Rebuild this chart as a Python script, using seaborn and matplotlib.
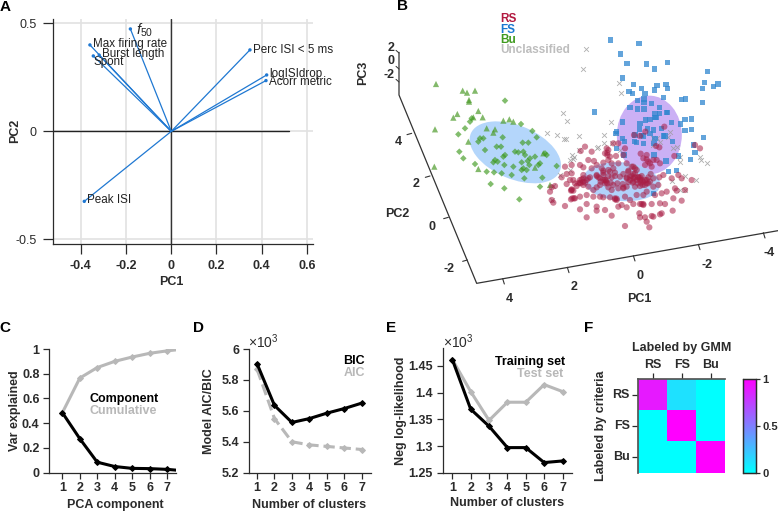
import numpy as np
import pandas as pd
import matplotlib
matplotlib.use('Agg')
import matplotlib.pyplot as plt
from matplotlib.patches import Ellipse
import seaborn as sns

sns.set_theme(style='ticks')
plt.rcParams['font.family'] = ['Liberation Sans', 'DejaVu Sans']
plt.rcParams['mathtext.fontset'] = 'custom'
plt.rcParams['mathtext.it'] = 'Liberation Sans:italic'
plt.rcParams['mathtext.rm'] = 'Liberation Sans'

W, H = 778, 513
DARK = '#2b2b2b'
GREY = '#b8b8b8'

# panel A loadings
feature_names = ['$f_{50}$', 'Max firing rate', 'Burst length', 'Spont',
                 'Perc ISI < 5 ms', 'logISIdrop', 'Acorr metric', 'Peak ISI']
pc1_load = [-0.181, -0.36, -0.319, -0.345, 0.348, 0.422, 0.419, -0.385]
pc2_load = [0.474, 0.40, 0.353, 0.349, 0.377, 0.261, 0.235, -0.324]

# panel B, points read in the projected view plane of the 3D plot
fs_h = [722, 807, 751, 771, 830, 893, 854, 1012, 758, 1003, 1044, 1030, 997, 790, 815, 853, 861, 888, 892,
        777, 787, 825, 880, 935, 947, 997, 803, 822, 822, 845, 673, 780, 803, 822, 868, 855, 892, 858,
        757, 808, 826, 840, 855, 868, 890, 905, 932, 945, 965, 965, 945, 1000, 740, 738, 758, 763, 793, 800,
        815, 820, 840, 855, 880, 885, 907, 970, 975, 962, 925, 888, 852, 740, 762, 920, 895, 850, 832, 810,
        850, 875, 820, 795, 852]
fs_v = [-180, -170, -138, -110, -108, -113, -93, -85, -66, -53, -48, -41, -35, -46, -35, -30, -44, -46, -35,
        -25, -19, -20, -8, -2, -3, 7, 2, -3, 7, 10, 36, 22, 27, 27, 23, 40, 37, 52,
        66, 87, 60, 58, 52, 40, 38, 67, 72, 58, 57, 88, 92, 112, 95, 100, 115, 125, 125, 128,
        107, 108, 100, 115, 108, 108, 125, 135, 158, 178, 168, 183, 165, 145, 165, 211, 215, 280, 85, 70,
        90, 85, 130, 105, 130]

rs_h = [645, 632, 665, 710, 730, 745, 712, 705, 720, 765, 760, 738, 715, 700, 655, 672, 630, 605, 585, 605,
        590, 575, 640, 665, 680, 695, 715, 730, 745, 770, 785, 800, 820, 835, 850, 860, 825, 845, 870, 792,
        810, 826, 883, 858, 868, 975, 990, 812, 830, 913, 600, 615, 630, 640, 650, 660, 680, 690, 700, 715,
        725, 735, 750, 770, 780, 790, 800, 810, 820, 830, 840, 850, 868, 880, 905, 925, 935, 965, 545, 555,
        590, 605, 603, 625, 640, 655, 680, 705, 715, 725, 745, 760, 770, 795, 810, 825, 850, 865, 915, 945,
        920, 540, 545, 550, 585, 607, 615, 630, 650, 670, 690, 700, 720, 735, 740, 765, 780, 800, 820, 830,
        855, 875, 890, 910, 935, 630, 650, 650, 680, 680, 705, 725, 745, 755, 770, 790, 815, 820, 845, 870,
        885, 875, 908, 808, 810, 825, 845, 850, 830, 765, 838, 870, 670, 610, 692, 708, 722, 742, 758, 775,
        788, 803, 818, 835, 790, 775, 760, 735, 700, 640, 620, 795, 805, 815, 830, 842, 640, 632, 705, 690,
        610, 605, 630, 635, 645, 655, 700, 708, 712, 730, 760, 780, 785, 795, 805, 825, 835, 812, 790, 770,
        775, 790, 795, 720, 700, 725, 715, 712, 830, 840, 810, 820, 612, 603, 735, 740, 680, 685, 810, 815]
rs_v = [140, 153, 155, 145, 130, 130, 158, 160, 170, 145, 165, 168, 180, 188, 180, 183, 195, 195, 200, 220,
        222, 232, 202, 205, 195, 205, 210, 205, 190, 190, 200, 210, 175, 185, 180, 180, 195, 200, 190, 105,
        108, 95, 80, 138, 142, 135, 145, 161, 165, 168, 240, 250, 240, 235, 240, 232, 225, 235, 225, 228,
        232, 228, 230, 235, 230, 235, 240, 240, 245, 240, 245, 235, 232, 225, 235, 225, 235, 240, 262, 258,
        252, 270, 272, 250, 255, 260, 262, 250, 262, 270, 265, 265, 260, 260, 258, 255, 260, 255, 265, 270,
        272, 275, 300, 308, 318, 295, 295, 290, 285, 290, 290, 292, 292, 295, 300, 290, 300, 285, 285, 275,
        285, 280, 275, 295, 302, 328, 352, 312, 320, 332, 330, 347, 320, 315, 322, 312, 312, 312, 312, 310,
        312, 340, 332, 340, 352, 352, 348, 350, 365, 378, 382, 343, 270, 240, 245, 240, 248, 250, 252, 246,
        248, 250, 255, 232, 222, 215, 222, 218, 212, 245, 258, 220, 232, 228, 250, 222, 225, 250, 240, 255,
        272, 268, 248, 238, 248, 235, 240, 245, 250, 255, 262, 240, 228, 232, 232, 240, 250, 248, 245, 232,
        212, 200, 205, 215, 218, 190, 150, 165, 178, 190, 312, 315, 295, 298, 298, 296, 228, 232, 232, 240]

bu_tri_h = [198, 278, 291, 315, 297, 297, 325, 262, 250, 338, 310, 195, 400, 418, 430, 350, 375, 370, 295,
            193, 325, 495, 520, 540]
bu_tri_v = [-48, -28, -22, -28, 0, 5, 33, 42, 53, 52, 52, 88, 62, 58, 65, 85, 88, 98, 125,
            200, 207, 203, 160, 255]
bu_dia_h = [405, 305, 300, 265, 285, 453, 487, 500, 330, 325, 340, 398, 380, 393, 345, 268, 280, 375, 370,
            400, 405, 435, 445, 460, 465, 458, 475, 480, 495, 525, 530, 510, 505, 403, 455, 460, 430, 478,
            315, 350, 372, 395, 425, 463, 517, 362, 403, 448, 510, 560, 473, 455, 383, 470]
bu_dia_v = [2, 55, 65, 103, 85, 72, 93, 112, 115, 125, 115, 112, 140, 140, 150, 155, 175, 180, 187,
            170, 165, 155, 157, 155, 165, 128, 128, 175, 170, 160, 165, 190, 195, 195, 187, 205, 200, 195,
            192, 215, 217, 220, 225, 235, 233, 252, 265, 298, 260, 198, 183, 210, 185, 210]

un_h = [648, 638, 748, 752, 580, 590, 722, 532, 562, 583, 587, 627, 703, 738, 703, 727, 685, 680, 628, 605,
        610, 600, 612, 750, 900, 895, 860, 850, 870, 910, 920, 990, 992, 1012, 930, 930, 945, 978, 905, 930,
        945, 570, 600, 550, 545, 850]
un_v = [-153, -93, -52, -20, 40, 63, 66, 100, 105, 117, 117, 108, 105, 100, 130, 130, 140, 143, 150, 165,
        178, 180, 170, 150, 95, 110, 115, 115, 127, 145, 140, 170, 180, 190, 170, 185, 228, 240, 243, 270,
        270, 225, 210, 258, 300, 135]

# panel C
pca_comp = [1, 2, 3, 4, 5, 6, 7, 8]
var_component = [0.485, 0.275, 0.085, 0.05, 0.035, 0.033, 0.027, 0.015]
var_cumulative = [0.485, 0.765, 0.85, 0.90, 0.935, 0.965, 0.985, 1.0]

# panel D
n_clusters = [1, 2, 3, 4, 5, 6, 7]
bic = [5.905, 5.635, 5.525, 5.55, 5.585, 5.615, 5.65]
aic = [5.87, 5.55, 5.40, 5.38, 5.37, 5.36, 5.35]

# panel E
nll_train = [1.462, 1.369, 1.337, 1.297, 1.297, 1.269, 1.272]
nll_test = [1.462, 1.402, 1.348, 1.382, 1.382, 1.415, 1.402]

# panel F
gmm_labels = ['RS', 'FS', 'Bu']
confusion = [[0.9, 0.12, 0.0], [0.0, 1.0, 0.0], [0.0, 0.0, 1.0]]


def px_axes(fig, x0, y0, x1, y1):
    # rectangle in pixels, y measured from the top
    return fig.add_axes([x0 / W, 1 - y1 / H, (x1 - x0) / W, (y1 - y0) / H])


def px_text(fig, x, y, s, **kw):
    kw.setdefault('fontweight', 'bold')
    kw.setdefault('fontsize', 9)
    kw.setdefault('color', DARK)
    kw.setdefault('ha', 'center')
    kw.setdefault('va', 'center')
    fig.text(x / W, 1 - y / H, s, **kw)


def style_axes(ax, length=4, pad=3):
    sns.despine(ax=ax)
    for side in ['left', 'bottom']:
        ax.spines[side].set_linewidth(0.9)
        ax.spines[side].set_color(DARK)
    ax.tick_params(length=length, width=0.9, color=DARK, labelsize=9, labelcolor=DARK, pad=pad)
    for lab in ax.get_xticklabels() + ax.get_yticklabels():
        lab.set_fontweight('bold')


def curve(ax, x, y, color, dashes=False):
    df = pd.DataFrame({'x': x, 'y': y})
    sns.lineplot(data=df, x='x', y='y', ax=ax, color=color, linewidth=2.2, marker='D', markersize=3,
                 markeredgecolor=color, linestyle='--' if dashes else '-', errorbar=None)
    ax.set_xlabel('')
    ax.set_ylabel('')


fig = plt.figure(figsize=(W / 100, H / 100), dpi=100)

# ---- A: loadings
ax = px_axes(fig, 53.3, 19, 313, 243.7)
ax.set_xlim(-0.522, 0.627)
ax.set_ylim(-0.52, 0.52)
ax.set_xticks([-0.4, -0.2, 0, 0.2, 0.4, 0.6])
ax.set_xticklabels(['-0.4', '-0.2', '0', '0.2', '0.4', '0.6'])
ax.set_yticks([-0.5, 0, 0.5])
ax.set_yticklabels(['-0.5', '0', '0.5'])
ax.grid(True, color='#e2e2e2', linewidth=1.2)
ax.set_axisbelow(True)
ax.plot([-0.522, 0.52], [0, 0], color='#222222', lw=1.0)
ax.axvline(0, color='#333333', lw=1.0)
for px, py in zip(pc1_load, pc2_load):
    ax.plot([0, px], [0, py], color='#1f78d2', lw=0.9)
sns.scatterplot(x=pc1_load, y=pc2_load, ax=ax, color='#1f78d2', s=6, edgecolor='none', zorder=4)
offsets = [(0.025, -0.005), (0.012, 0.005), (0.012, 0.005), (0.003, -0.028), (0.014, 0.0), (0.012, 0.005),
           (0.012, -0.008), (0.012, 0.005)]
sizes = [10.5, 8.4, 8.4, 8.4, 8.4, 8.4, 8.4, 8.4]
for name, px, py, off, fs in zip(feature_names, pc1_load, pc2_load, offsets, sizes):
    ax.text(px + off[0], py + off[1], name, fontsize=fs, color='#222222', va='center', clip_on=False)
style_axes(ax, length=7, pad=5)
ax.spines['left'].set_position(('data', -0.522))
px_text(fig, 171, 282, 'PC1')
px_text(fig, 15, 131, 'PC2', rotation=90)

# ---- B: 3D view, drawn on a flat axes in view plane units
axb = px_axes(fig, 330, 0, 778, 310)
axb.set_xlim(-120, 1224)
axb.set_ylim(630, -300)
axb.axis('off')
axb.add_patch(Ellipse((436, 157), 290, 160, angle=23, facecolor='#b4d6fb', edgecolor='none', zorder=1))
axb.add_patch(Ellipse((838, 105), 195, 236, angle=0, facecolor='#cbb0f5', edgecolor='none', zorder=1))
axb.add_patch(Ellipse((755, 245), 232, 116, angle=5, facecolor='#a9cdfb', edgecolor='none', alpha=0.9, zorder=2))
sns.scatterplot(x=un_h, y=un_v, ax=axb, marker='x', color='#9a9a9a', s=12, linewidth=0.6, alpha=0.8, zorder=3)
sns.scatterplot(x=fs_h, y=fs_v, ax=axb, marker='s', color='#2f86cf', s=13, edgecolor='none', alpha=0.75, zorder=4)
sns.scatterplot(x=bu_tri_h, y=bu_tri_v, ax=axb, marker='^', color='#4e9c2c', s=20, edgecolor='none', alpha=0.7, zorder=4)
sns.scatterplot(x=bu_dia_h, y=bu_dia_v, ax=axb, marker='D', color='#3f9a1f', s=11, edgecolor='none', alpha=0.65, zorder=4)
sns.scatterplot(x=rs_h, y=rs_v, ax=axb, marker='o', color='#a81c43', s=20, edgecolor='none', alpha=0.55, zorder=5)
axb.plot([87, 87, 320, 1224], [-143, -15, 550, 392], color='#333333', lw=0.9, zorder=1, clip_on=False)
for tx, ty, ddx, ddy in [(125, 100, -14, 4), (180, 228, -14, 4), (235, 352, -14, 4), (292, 480, -14, 4)]:
    axb.plot([tx, tx + ddx], [ty, ty + ddy], color='#333333', lw=0.8)
for tx, ty in [(398, 536), (592, 502), (790, 467), (985, 433), (1180, 398)]:
    axb.plot([tx, tx + 5], [ty, ty + 16], color='#333333', lw=0.8)
for ty in [-141, -93, -54]:
    axb.plot([87, 78], [ty, ty - 8], color='#333333', lw=0.7)
for lab, tx, ty in [('4', 85, 127), ('2', 137, 252), ('0', 187, 380), ('-2', 237, 507),
                    ('4', 418, 596), ('2', 613, 562), ('0', 810, 528), ('-2', 1012, 494), ('-4', 1197, 460),
                    ('2', 62, -157), ('0', 62, -118), ('-2', 57, -76)]:
    axb.text(tx, ty, lab, fontsize=9, fontweight='bold', color=DARK, ha='center', va='center')
axb.text(82, 343, 'PC2', fontsize=9, fontweight='bold', color=DARK, ha='center', va='center')
axb.text(807, 596, 'PC1', fontsize=9, fontweight='bold', color=DARK, ha='center', va='center')
px_text(fig, 363, 73, 'PC3', rotation=90)
for lab, col, y in [('RS', '#b2183f', 19), ('FS', '#1a78d0', 30), ('Bu', '#3f9a1f', 40), ('Unclassified', '#bdbdbd', 50)]:
    px_text(fig, 500, y, lab, color=col, ha='left', fontsize=8.5)

# ---- C
ax = px_axes(fig, 49.3, 349, 175.7, 472.7)
curve(ax, pca_comp, var_cumulative, GREY)
curve(ax, pca_comp, var_component, 'black')
ax.set_xlim(0.25, 7.5)
ax.set_ylim(0, 1)
ax.set_xticks(range(1, 8))
ax.set_yticks([0, 0.2, 0.4, 0.6, 0.8, 1])
ax.set_yticklabels(['0', '0.2', '0.4', '0.6', '0.8', '1'])
style_axes(ax)
px_text(fig, 89, 399, 'Component', color='black', ha='left')
px_text(fig, 89, 411, 'Cumulative', color=GREY, ha='left')
px_text(fig, 115, 505, 'PCA component')
px_text(fig, 15, 411, 'Var explained', rotation=90)

# ---- D
ax = px_axes(fig, 249, 349, 371, 472.7)
curve(ax, n_clusters, aic, GREY, dashes=True)
curve(ax, n_clusters, bic, 'black')
ax.set_xlim(0.54, 7.53)
ax.set_ylim(5.2, 6)
ax.set_xticks(range(1, 8))
ax.set_yticks([5.2, 5.4, 5.6, 5.8, 6])
ax.set_yticklabels(['5.2', '5.4', '5.6', '5.8', '6'])
style_axes(ax)
px_text(fig, 263, 342, r'$\times10^{3}$', fontweight='normal', fontsize=10)
px_text(fig, 354, 361, 'BIC', color='black')
px_text(fig, 354, 373, 'AIC', color=GREY)
px_text(fig, 309, 505, 'Number of clusters')
px_text(fig, 209, 411, 'Model AIC/BIC', rotation=90)

# ---- E
ax = px_axes(fig, 442.7, 348.3, 571.7, 472.7)
curve(ax, n_clusters, nll_test, GREY)
curve(ax, n_clusters, nll_train, 'black')
ax.set_xlim(0.476, 7.5)
ax.set_ylim(1.25, 1.483)
ax.set_xticks(range(1, 8))
ax.set_yticks([1.25, 1.3, 1.35, 1.4, 1.45])
ax.set_yticklabels(['1.25', '1.3', '1.35', '1.4', '1.45'])
style_axes(ax)
px_text(fig, 458, 342, r'$\times10^{3}$', fontweight='normal', fontsize=10)
px_text(fig, 530, 362, 'Training set', color='black')
px_text(fig, 540, 374, 'Test set', color=GREY)
px_text(fig, 507, 503, 'Number of clusters')
px_text(fig, 401, 411, 'Neg log-likelihood', rotation=90)

# ---- F
ax = px_axes(fig, 638.3, 379, 725, 472.7)
cax = px_axes(fig, 742.7, 379, 755.7, 472.7)
sns.heatmap(pd.DataFrame(confusion, index=gmm_labels, columns=gmm_labels), ax=ax, cbar_ax=cax, cmap='cool',
            vmin=0, vmax=1, cbar_kws={'ticks': [0, 0.5, 1]})
ax.xaxis.tick_top()
ax.tick_params(length=4, width=0.9, color=DARK, labelsize=9, labelcolor=DARK, pad=2, rotation=0)
for lab in ax.get_xticklabels() + ax.get_yticklabels():
    lab.set_fontweight('bold')
for side in ['left', 'top']:
    ax.spines[side].set_visible(True)
    ax.spines[side].set_color('#555555')
cax.set_yticklabels(['0', '0.5', '1'])
cax.tick_params(length=3, width=0.9, color=DARK, labelsize=8, labelcolor=DARK, pad=2)
for lab in cax.get_yticklabels():
    lab.set_fontweight('bold')
for sp in cax.spines.values():
    sp.set_visible(True)
    sp.set_color(DARK)
    sp.set_linewidth(0.9)
px_text(fig, 682, 348, 'Labeled by GMM')
px_text(fig, 601, 426, 'Labeled by criteria', rotation=90)

# panel letters
for letter, x, y in [('A', 5, 7), ('B', 403, 6), ('C', 5, 328), ('D', 199, 328), ('E', 391, 328), ('F', 589, 328)]:
    px_text(fig, x, y, letter, color='black', fontsize=11)

fig.savefig('out.png', dpi=100)
